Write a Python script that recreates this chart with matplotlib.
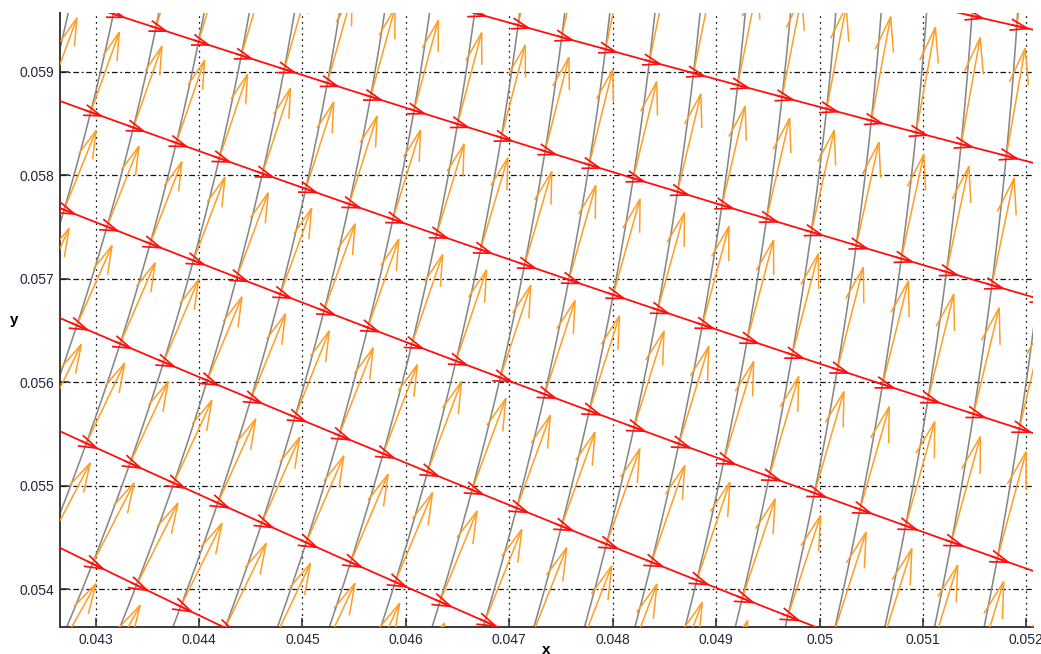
import numpy as np
import matplotlib.pyplot as plt
from matplotlib.collections import LineCollection

# grid nodes: u = index of the grey line, v = index of the red line
node_u = np.array([0, 3, -1, 0, 5, 7, 8, -1, 0, 4, 14, -2, 0, 3, 5, 8, 13, 18,
                   -3, 0, 3, 8, -2, 0, 2, 12, 17, 16, 17])
node_v = np.array([0, 0, 1, 1, 1, 1, 1, 2, 2, 2, 2, 3, 3, 3, 3, 3, 3, 3,
                   4, 4, 4, 4, 5, 5, 5, 6, 6, 7, 7])
node_x = np.array([0.042993, 0.0442186, 0.0429285, 0.0433482, 0.0454430, 0.0463298,
                   0.0467815, 0.0432186, 0.0436538, 0.0453308, 0.0496983, 0.0430900,
                   0.0439604, 0.0452176, 0.0460561, 0.0473453, 0.0495049, 0.0517293,
                   0.0429449, 0.0442022, 0.0454594, 0.0475706, 0.0435735, 0.0444120,
                   0.0452496, 0.0496500, 0.0517941, 0.0514720, 0.0519072])
node_y = np.array([0.0542455, 0.0536522, 0.0554126, 0.0552020, 0.0542648, 0.0538474,
                   0.0536861, 0.0563875, 0.0561962, 0.0554890, 0.0537344, 0.0574976,
                   0.0571518, 0.0566928, 0.0563595, 0.0558928, 0.0551034, 0.0542986,
                   0.0586059, 0.0581672, 0.0577266, 0.0569875, 0.0594281, 0.0591604,
                   0.0588928, 0.0587585, 0.0581952, 0.0595315, 0.0594368])

x_ticks = [0.043, 0.044, 0.045, 0.046, 0.047, 0.048, 0.049, 0.05, 0.051, 0.052]
x_labels = ['0.043', '0.044', '0.045', '0.046', '0.047', '0.048', '0.049', '0.05', '0.051', '0.052']
y_ticks = [0.054, 0.055, 0.056, 0.057, 0.058, 0.059]
y_labels = ['0.054', '0.055', '0.056', '0.057', '0.058', '0.059']
x_range = (0.0426548, 0.0520648)
y_range = (0.0536377, 0.0595672)

# smooth map (u, v) -> (x, y), least squares quadratic through the nodes
def terms(u, v):
    u = np.asarray(u, float)
    v = np.asarray(v, float)
    return np.stack([np.ones_like(u), u, v, u * u, u * v, v * v], axis=-1)

A = terms(node_u, node_v)
cx = np.linalg.lstsq(A, node_x, rcond=None)[0]
cy = np.linalg.lstsq(A, node_y, rcond=None)[0]

def grid_xy(u, v):
    t = terms(u, v)
    return t @ cx, t @ cy

u_cols = np.arange(-8, 25)
v_rows = np.arange(-3, 11)

fig = plt.figure(figsize=(10.41, 6.54), dpi=100)
ax = fig.add_axes([0.05764, 0.04174, 0.93468, 0.93838])

grey = '#878787'
red = '#ff1010'
orange = '#ff9d24'

# grey lines (v varies)
vs = np.linspace(v_rows[0], v_rows[-1], 400)
for u in u_cols:
    gx, gy = grid_xy(np.full_like(vs, u), vs)
    ax.plot(gx, gy, color=grey, lw=1.15, zorder=2)

def arrow_segs(x0, y0, dx, dy, head_frac, head_ang):
    # shaft plus two open barbs at the tip
    segs = []
    ang = np.deg2rad(head_ang)
    for a, b, c, d in zip(x0, y0, dx, dy):
        tx, ty = a + c, b + d
        L = np.hypot(c, d)
        bx, by = -c / L, -d / L
        segs.append([(a, b), (tx, ty)])
        for s in (ang, -ang):
            rx = bx * np.cos(s) - by * np.sin(s)
            ry = bx * np.sin(s) + by * np.cos(s)
            segs.append([(tx, ty), (tx + rx * L * head_frac, ty + ry * L * head_frac)])
    return segs

uu, vv = np.meshgrid(u_cols, v_rows)
uu = uu.ravel()
vv = vv.ravel()
px, py = grid_xy(uu, vv)
ux, uy = grid_xy(uu + 1, vv)
wx, wy = grid_xy(uu, vv + 1)
step_u = (ux - px, uy - py)
step_v = (wx - px, wy - py)

# orange arrows at every node
ox = 0.85 * step_v[0] + 0.22 * step_u[0]
oy = 0.85 * step_v[1] + 0.22 * step_u[1]
orange_lc = LineCollection(arrow_segs(px, py, ox, oy, 0.34, 15), colors=orange,
                           linewidths=1.1, zorder=3)
ax.add_collection(orange_lc)

# red lines (u varies)
us = np.linspace(u_cols[0], u_cols[-1], 600)
for v in v_rows:
    rx_, ry_ = grid_xy(us, np.full_like(us, v))
    ax.plot(rx_, ry_, color=red, lw=1.3, zorder=4)

# red arrow heads sitting on the nodes
red_lc = LineCollection(arrow_segs(px - 0.12 * step_u[0], py - 0.12 * step_u[1],
                                   0.36 * step_u[0], 0.36 * step_u[1], 1.1, 18),
                        colors=red, linewidths=1.25, zorder=4)
ax.add_collection(red_lc)

ax.set_xlim(*x_range)
ax.set_ylim(*y_range)
ax.set_xticks(x_ticks)
ax.set_xticklabels(x_labels)
ax.set_yticks(y_ticks)
ax.set_yticklabels(y_labels)

ax.xaxis.grid(True, color='#111111', lw=0.9, linestyle=(0, (1.4, 3.2)), zorder=1)
ax.yaxis.grid(True, color='#111111', lw=0.9, linestyle=(0, (4.5, 2.2, 1.4, 2.2)), zorder=1)
ax.set_axisbelow(True)

for side in ('top', 'right'):
    ax.spines[side].set_visible(False)
for side in ('left', 'bottom'):
    ax.spines[side].set_color('#3a3a3a')
    ax.spines[side].set_linewidth(1.4)

ax.tick_params(direction='in', length=6.5, width=1.1, color='#222222',
               labelsize=10, labelcolor='#22263a', pad=4.5)
for lab in ax.get_xticklabels() + ax.get_yticklabels():
    lab.set_family('Liberation Sans')

ax.set_xlabel('x', fontsize=11, fontweight='bold', family='Liberation Sans')
ax.set_ylabel('y', fontsize=11, fontweight='bold', family='Liberation Sans', rotation=0)
ax.xaxis.set_label_coords(0.5, -0.027)
ax.yaxis.set_label_coords(-0.047, 0.5)
ax.yaxis.label.set_verticalalignment('center')

fig.savefig('out.png', dpi=100)
